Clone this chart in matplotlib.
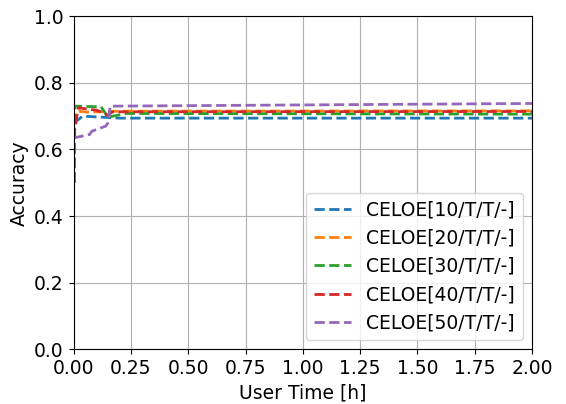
import numpy as np
import matplotlib
matplotlib.use("Agg")
import matplotlib.pyplot as plt

labels = ["CELOE[10/T/T/-]", "CELOE[20/T/T/-]", "CELOE[30/T/T/-]",
          "CELOE[40/T/T/-]", "CELOE[50/T/T/-]"]

# user time [h] and accuracy for each run
t10 = [0.003, 0.003, 0.012, 0.04, 0.2, 2.0]
a10 = [0.50, 0.67, 0.685, 0.70, 0.694, 0.694]
t20 = [0.003, 0.003, 0.02, 0.06, 0.2, 2.0]
a20 = [0.50, 0.70, 0.715, 0.712, 0.715, 0.716]
t30 = [0.003, 0.005, 0.12, 0.15, 0.23, 2.0]
a30 = [0.50, 0.73, 0.728, 0.697, 0.708, 0.706]
t40 = [0.003, 0.005, 0.02, 0.10, 0.15, 0.17, 2.0]
a40 = [0.50, 0.66, 0.725, 0.718, 0.703, 0.713, 0.714]
t50 = [0.003, 0.003, 0.07, 0.08, 0.14, 0.15, 0.16, 2.0]
a50 = [0.50, 0.635, 0.645, 0.655, 0.67, 0.68, 0.73, 0.738]

times = [t10, t20, t30, t40, t50]
accs = [a10, a20, a30, a40, a50]

plt.rcParams['font.size'] = 13.5
fig, ax = plt.subplots(figsize=(5.66, 4.04), dpi=100)

for t, a, lab in zip(times, accs, labels):
    ax.plot(t, a, '--', lw=2, label=lab)

ax.set_xlim(0, 2.0)
ax.set_ylim(0, 1.0)
ax.set_xticks(np.arange(0, 2.01, 0.25))
ax.set_xlabel("User Time [h]")
ax.set_ylabel("Accuracy")
ax.grid(True)
ax.legend(loc="lower right")

plt.subplots_adjust(left=0.13, right=0.94, top=0.96, bottom=0.135)
plt.savefig("out.png")
